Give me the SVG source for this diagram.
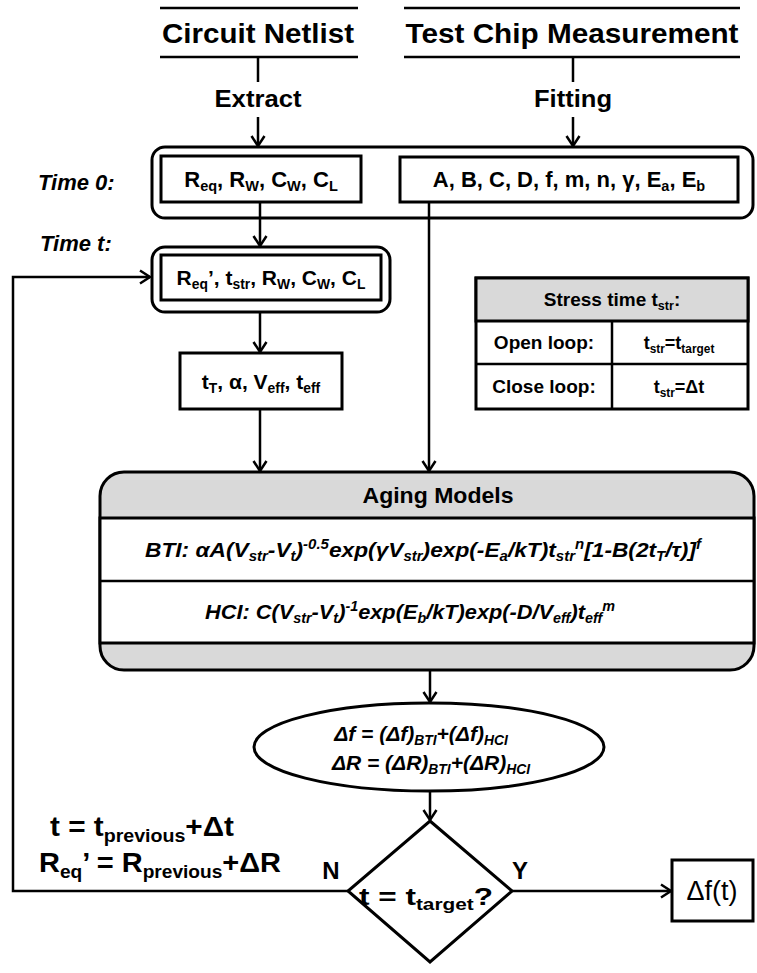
<svg xmlns="http://www.w3.org/2000/svg" width="757" height="973" viewBox="0 0 757 973">
<style>
text{font-family:"Liberation Sans",Arial,sans-serif;font-weight:bold;fill:#000}
.it{font-style:italic}
.box{fill:#fff;stroke:#000;stroke-width:3}
.gray{fill:#d9d9d9;stroke:#000;stroke-width:3}
.ln{fill:none;stroke:#000;stroke-width:2.5}
.sub{font-size:0.66em}
</style>
<defs>
<marker id="ah" markerWidth="16" markerHeight="16" refX="13" refY="8" orient="auto" markerUnits="userSpaceOnUse">
<path d="M3,1.5 L13,8 L3,14.5" fill="none" stroke="#000" stroke-width="2.5"/>
</marker>
</defs>
<rect width="757" height="973" fill="#fff"/>

<g id="src-netlist">
<line x1="160" y1="8" x2="358" y2="8" class="ln" stroke-width="3"/>
<text x="258" y="43" font-size="27" text-anchor="middle" textLength="192" lengthAdjust="spacingAndGlyphs">Circuit Netlist</text>
<line x1="160" y1="57" x2="358" y2="57" class="ln" stroke-width="3"/>
</g>
<g id="src-testchip">
<line x1="404" y1="8" x2="740" y2="8" class="ln" stroke-width="3"/>
<text x="572" y="43" font-size="27" text-anchor="middle" textLength="333" lengthAdjust="spacingAndGlyphs">Test Chip Measurement</text>
<line x1="404" y1="57" x2="740" y2="57" class="ln" stroke-width="3"/>
</g>
<g id="lbl-extract"><text x="258" y="107" font-size="23" text-anchor="middle" textLength="87" lengthAdjust="spacingAndGlyphs">Extract</text></g>
<g id="lbl-fitting"><text x="573" y="107" font-size="23" text-anchor="middle" textLength="78" lengthAdjust="spacingAndGlyphs">Fitting</text></g>

<g id="time0">
<text x="38" y="190" font-size="22" class="it">Time 0:</text>
<rect x="152" y="147" width="601" height="71" rx="13" class="box"/>
</g>
<g id="params-circuit">
<rect x="161" y="156" width="200" height="46" class="box"/>
<text x="261" y="187" font-size="22" text-anchor="middle">R<tspan class="sub" dy="4">eq</tspan><tspan dy="-4">, R</tspan><tspan class="sub" dy="4">W</tspan><tspan dy="-4">, C</tspan><tspan class="sub" dy="4">W</tspan><tspan dy="-4">, C</tspan><tspan class="sub" dy="4">L</tspan></text>
</g>
<g id="params-fit">
<rect x="400" y="157" width="338" height="45" class="box"/>
<text x="569" y="187" font-size="22" text-anchor="middle">A, B, C, D, f, m, n, γ, E<tspan class="sub" dy="4">a</tspan><tspan dy="-4">, E</tspan><tspan class="sub" dy="4">b</tspan></text>
</g>

<g id="timet">
<text x="40" y="251" font-size="22" class="it">Time t:</text>
<rect x="152" y="247" width="238" height="65" rx="13" class="box"/>
<rect x="161" y="255" width="220" height="45" class="box"/>
<text x="271" y="285" font-size="21" text-anchor="middle">R<tspan class="sub" dy="4">eq</tspan><tspan dy="-4">’, t</tspan><tspan class="sub" dy="4">str</tspan><tspan dy="-4">, R</tspan><tspan class="sub" dy="4">W</tspan><tspan dy="-4">, C</tspan><tspan class="sub" dy="4">W</tspan><tspan dy="-4">, C</tspan><tspan class="sub" dy="4">L</tspan></text>
</g>

<g id="derived">
<rect x="180" y="353" width="162" height="56" class="box"/>
<text x="261" y="389" font-size="21" text-anchor="middle">t<tspan class="sub" dy="4">T</tspan><tspan dy="-4">, α, V</tspan><tspan class="sub" dy="4">eff</tspan><tspan dy="-4">, t</tspan><tspan class="sub" dy="4">eff</tspan></text>
</g>

<g id="stress-table">
<rect x="476" y="278" width="272" height="131" class="box"/>
<rect x="476" y="278" width="272" height="43" class="gray"/>
<line x1="476" y1="364" x2="748" y2="364" class="ln" stroke-width="3"/>
<line x1="612" y1="321" x2="612" y2="409" class="ln" stroke-width="3"/>
<text x="612" y="306" font-size="19" text-anchor="middle">Stress time t<tspan class="sub" dy="4">str</tspan><tspan dy="-4">:</tspan></text>
<text x="544" y="349" font-size="19" text-anchor="middle">Open loop:</text>
<text x="679" y="349" font-size="18" text-anchor="middle">t<tspan class="sub" dy="4">str</tspan><tspan dy="-4">=t</tspan><tspan class="sub" dy="4">target</tspan></text>
<text x="544" y="393" font-size="19" text-anchor="middle">Close loop:</text>
<text x="679" y="393" font-size="18" text-anchor="middle">t<tspan class="sub" dy="4">str</tspan><tspan dy="-4">=Δt</tspan></text>
</g>

<g id="aging-models">
<rect x="100" y="472" width="654" height="198" rx="24" class="gray"/>
<rect x="100" y="518" width="654" height="125" class="box"/>
<line x1="100" y1="581" x2="754" y2="581" class="ln" stroke-width="3"/>
<text x="438" y="503" font-size="22" text-anchor="middle" textLength="151" lengthAdjust="spacingAndGlyphs">Aging Models</text>
<text x="423" y="557" font-size="21" class="it" text-anchor="middle" textLength="556" lengthAdjust="spacingAndGlyphs">BTI: αA(V<tspan class="sub" dy="4">str</tspan><tspan dy="-4">-V</tspan><tspan class="sub" dy="4">t</tspan><tspan dy="-4">)</tspan><tspan class="sub" dy="-8">-0.5</tspan><tspan dy="8">exp(γV</tspan><tspan class="sub" dy="4">str</tspan><tspan dy="-4">)exp(-E</tspan><tspan class="sub" dy="4">a</tspan><tspan dy="-4">/kT)t</tspan><tspan class="sub" dy="4">str</tspan><tspan class="sub" dy="-12">n</tspan><tspan dy="8">[1-B(2t</tspan><tspan class="sub" dy="4">T</tspan><tspan dy="-4">/τ)]</tspan><tspan class="sub" dy="-8">f</tspan></text>
<text x="410" y="619" font-size="21" class="it" text-anchor="middle" textLength="410" lengthAdjust="spacingAndGlyphs">HCI: C(V<tspan class="sub" dy="4">str</tspan><tspan dy="-4">-V</tspan><tspan class="sub" dy="4">t</tspan><tspan dy="-4">)</tspan><tspan class="sub" dy="-8">-1</tspan><tspan dy="8">exp(E</tspan><tspan class="sub" dy="4">b</tspan><tspan dy="-4">/kT)exp(-D/V</tspan><tspan class="sub" dy="4">eff</tspan><tspan dy="-4">)t</tspan><tspan class="sub" dy="4">eff</tspan><tspan class="sub" dy="-12">m</tspan></text>
</g>

<g id="delta-sum">
<ellipse cx="429" cy="747" rx="175" ry="44" class="box"/>
<text x="421" y="741" font-size="21" class="it" text-anchor="middle">Δf = (Δf)<tspan class="sub" dy="4">BTI</tspan><tspan dy="-4">+(Δf)</tspan><tspan class="sub" dy="4">HCI</tspan></text>
<text x="431" y="770" font-size="21" class="it" text-anchor="middle">ΔR = (ΔR)<tspan class="sub" dy="4">BTI</tspan><tspan dy="-4">+(ΔR)</tspan><tspan class="sub" dy="4">HCI</tspan></text>
</g>

<g id="decision">
<polygon points="430,821 512,891 430,962 348,891" class="box"/>
<text x="426" y="905" font-size="24" text-anchor="middle" textLength="134" lengthAdjust="spacingAndGlyphs">t = t<tspan class="sub" dy="5">target</tspan><tspan dy="-5">?</tspan></text>
<text x="331" y="879" font-size="24" text-anchor="middle">N</text>
<text x="520" y="879" font-size="24" text-anchor="middle">Y</text>
</g>

<g id="update-label">
<text x="142" y="836" font-size="28" text-anchor="middle" textLength="184" lengthAdjust="spacingAndGlyphs">t = t<tspan class="sub" dy="6">previous</tspan><tspan dy="-6">+Δt</tspan></text>
<text x="160" y="872" font-size="28" text-anchor="middle" textLength="242" lengthAdjust="spacingAndGlyphs">R<tspan class="sub" dy="6">eq</tspan><tspan dy="-6">’ = R</tspan><tspan class="sub" dy="6">previous</tspan><tspan dy="-6">+ΔR</tspan></text>
</g>

<g id="result">
<rect x="672" y="860" width="81" height="61" class="box"/>
<text x="712" y="900" font-size="27" style="font-weight:normal" text-anchor="middle">Δf(t)</text>
</g>

<g id="connectors">
<line x1="258" y1="57" x2="258" y2="82" class="ln"/>
<line x1="573" y1="57" x2="573" y2="82" class="ln"/>
<line x1="258" y1="117" x2="258" y2="146" class="ln" marker-end="url(#ah)"/>
<line x1="573" y1="117" x2="573" y2="146" class="ln" marker-end="url(#ah)"/>
<line x1="260" y1="202" x2="260" y2="246" class="ln" marker-end="url(#ah)"/>
<line x1="429" y1="202" x2="429" y2="471" class="ln" marker-end="url(#ah)"/>
<line x1="260" y1="312" x2="260" y2="352" class="ln" marker-end="url(#ah)"/>
<line x1="260" y1="409" x2="260" y2="471" class="ln" marker-end="url(#ah)"/>
<line x1="430" y1="670" x2="430" y2="702" class="ln" marker-end="url(#ah)"/>
<line x1="430" y1="791" x2="430" y2="820" class="ln" marker-end="url(#ah)"/>
<polyline points="348,891 13,891 13,277 150,277" class="ln" marker-end="url(#ah)"/>
<line x1="512" y1="891" x2="671" y2="891" class="ln" marker-end="url(#ah)"/>
</g>
</svg>
